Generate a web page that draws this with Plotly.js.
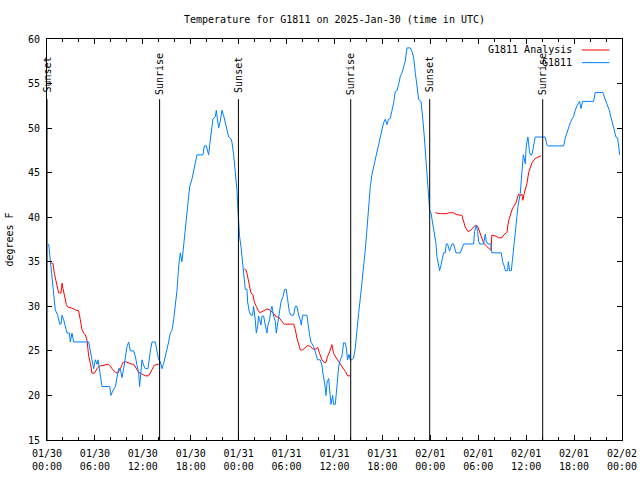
<!DOCTYPE html>
<html><head><meta charset="utf-8">
<script src="https://cdn.plot.ly/plotly-3.0.1.min.js"></script>
<style>html,body{margin:0;padding:0;background:#fff}#chart{width:640px;height:480px}</style>
</head><body><div id="chart"></div>
<script>
// hours after 2025-01-30 00:00 UTC
const blueHours = [0.21,0.42,0.63,0.83,1.04,1.34,1.59,1.75,1.88,2.09,2.30,2.50,2.80,2.92,3.13,3.34,5.22,5.43,5.63,5.84,6.05,6.26,6.39,6.55,6.80,6.89,7.85,8.01,8.22,8.56,8.76,8.97,9.18,9.39,9.60,9.81,10.02,10.23,10.43,10.85,11.06,11.27,11.48,11.60,11.77,11.89,12.10,12.31,12.65,12.73,12.94,13.15,13.56,13.77,13.98,14.19,14.40,14.61,14.82,15.03,15.23,15.44,15.65,15.86,16.07,16.28,16.49,16.69,16.90,17.11,17.32,17.45,17.61,17.86,18.16,18.36,18.57,18.70,18.78,19.53,19.70,19.95,20.24,20.37,20.53,20.66,20.78,21.08,21.20,21.37,21.49,21.70,21.91,22.12,22.33,22.54,22.75,23.04,23.16,23.37,23.58,23.79,23.87,24.00,24.12,24.29,24.54,24.70,24.83,25.04,25.12,25.33,25.54,25.75,25.87,26.08,26.21,26.37,26.50,26.62,26.79,26.92,27.13,27.33,27.54,27.67,27.88,28.04,28.17,28.38,28.59,28.71,28.88,29.13,29.30,29.55,29.75,29.96,30.13,30.34,30.56,30.88,31.09,31.30,31.51,31.72,31.84,32.01,32.55,32.68,32.88,33.05,33.39,33.59,33.89,34.22,34.43,34.56,34.77,34.93,35.06,35.27,35.39,35.56,35.77,35.89,36.10,36.22,36.39,36.52,36.73,36.93,37.14,37.35,37.48,37.64,37.81,37.98,38.19,38.39,38.60,38.81,39.02,39.23,39.44,39.65,39.85,40.06,40.27,40.48,40.69,40.90,41.11,41.32,41.52,41.73,41.94,42.15,42.36,42.57,42.77,42.98,43.19,43.40,43.61,43.82,44.03,44.24,44.45,44.65,44.86,45.07,45.49,45.70,45.91,46.12,46.33,46.54,46.83,46.95,47.07,47.24,47.37,47.57,47.70,47.82,47.91,48.08,48.33,48.49,48.70,48.83,49.04,49.16,49.33,49.50,49.66,49.87,50.00,50.16,50.41,50.58,50.71,50.92,51.04,51.21,51.76,51.96,52.17,53.42,53.54,53.75,53.92,54.05,54.17,54.67,54.88,55.00,55.17,55.59,55.71,56.88,57.05,57.26,57.39,57.68,57.76,57.93,58.14,58.26,58.43,58.55,58.72,58.85,58.97,59.26,59.39,59.51,59.64,59.76,59.89,60.01,60.10,60.22,60.39,60.51,60.72,60.93,61.14,62.39,62.60,62.81,64.69,64.90,65.10,65.31,65.52,65.73,65.94,66.15,66.36,66.69,66.86,67.07,67.19,68.44,68.65,69.61,69.78,69.99,70.20,70.41,70.62,70.82,71.03,71.24,71.45,71.58,71.70];
const blueTemp = [37,35,33.5,31.5,29.6,29,28,28,29,28.5,27.7,27,27,26,27,26,26,25,24,23,24,23.5,24,23,22,21,21,20,20.5,21,22,23,23,22,23,24.5,25.5,26,25,25,24.4,23.4,22.5,21,23,24,23.4,23,23,23.7,25,26,26,25,24,23.8,23,23.6,24.4,25,26,27,27.3,28.5,30,31.8,34.5,36,35,37,38.2,39.5,41.6,43.4,44.3,45.3,46,46.9,47,47,48,48,47,48.1,49.4,50.5,51,51.3,52,50.8,50,50.8,52,51.4,50.7,50,49,48.8,48.4,47,45.3,43,41.4,39.5,37.8,36.7,34.5,33.3,31.9,31.9,30.5,29.4,29,29,30,28.5,27,27.7,28.9,28.5,27.9,28.9,28.9,27.9,27,27.9,28.5,29.6,30,28.9,28.3,27,27.9,29.4,30.5,31.1,31.9,31.9,30.5,29.4,29,29,30,30,29,28.5,27.9,29,29,27.9,26.8,26,25.5,24.9,24,24,23.4,22.4,21.4,20,21.4,21.9,20.8,19,20,19,19,20,21.6,23.2,24,24.4,25.9,25.9,25.3,24,24.6,24,24,24.2,25.3,27.5,29.2,30.9,32.6,34.5,36.3,38.6,41.4,43.4,44.8,45.7,46.6,47.2,48.1,49.1,49.8,50.6,51,50.4,51,51.1,51.9,52.8,54.1,54.2,54.9,55.8,56.2,56.9,57.5,59,59,58.6,57.9,56.2,54.5,53.2,53,52.2,50.9,49.1,47,45,43.4,41.6,40.8,40.5,39.3,38.2,37.1,35.6,34.3,34,34.6,35.6,36,36,37,37,36.2,36.7,37,37,36.4,36,36,36.6,37,37,38.4,39.1,38.4,37.3,37,37,38.1,37.3,37,37,36,36,35,34.5,34,34,35,34,34,35,36.4,37.7,38.9,40.1,41.2,42.7,44.4,46.1,47,46.6,46,48,48.7,49,47.6,47,47,48,49,49,48.1,48,48,48.9,49.5,50,50.6,51,51.3,52,52.5,53,52.2,53,53,53,54,54,53.5,53,52.5,52,51.2,50.6,49.8,49,48.9,48,47];

const redHours = [0.42,0.75,0.92,1.17,1.46,1.75,1.88,2.00,2.17,2.42,2.63,3.13,3.55,3.96,4.17,4.38,4.59,4.80,5.01,5.22,5.43,5.63,5.93,6.26,6.59,7.10,7.72,7.93,8.14,8.56,8.85,9.18,9.52,9.81,10.23,10.64,10.85,11.06,11.27,11.48,11.89,12.31,12.73,12.94,13.15,13.44,13.77,13.98,
  19.0,
  24.70,24.91,25.04,25.25,25.54,25.79,25.96,26.21,26.50,26.71,27.13,27.54,27.88,28.17,28.38,28.71,29.00,29.42,29.71,30.88,31.09,31.30,31.51,31.72,32.01,32.34,32.63,32.97,33.30,33.72,33.89,34.14,34.43,34.72,34.93,35.14,35.39,35.68,35.89,36.22,36.52,36.81,37.06,37.35,37.65,37.98,
  43.0,
  48.62,49.24,50.08,50.29,50.92,51.25,51.96,52.17,52.37,52.71,53.00,53.34,53.63,53.92,54.17,54.46,54.67,55.09,55.34,55.59,55.71,56.13,56.55,56.97,57.18,57.59,57.80,58.01,58.22,58.43,58.72,59.05,59.26,59.47,59.59,59.76,59.93,60.10,60.31,60.51,60.72,61.14,61.56,61.85];
const redTemp = [34.9,34.8,33.7,32.6,31.5,31.5,32.6,32,31.1,30.2,29.9,29.8,29.6,29.5,28.5,27.4,27,26.8,26.2,24.4,23.6,22.5,22.5,23,23.3,23.4,23.5,23.3,23,22.6,22.5,23,23.7,23.8,23.6,23.5,23.5,23.2,23,22.6,22.4,22.2,22.2,22.5,22.9,23.4,23.5,23.5,
  null,
  34.2,34.1,33.7,32.6,31.5,31.3,30.5,30,29.4,29.3,29.5,29.7,29.6,29.4,29.2,28.8,28.8,28.3,28,28,27.4,26.4,25.7,25.1,25.1,25.4,25.6,25.5,25.2,25.2,25.4,24.7,24,23.7,23.7,24.4,24.9,25.7,24.7,24.2,23.8,23.5,23.2,22.7,22.2,22.2,
  null,
  40.5,40.4,40.4,40.5,40.5,40.3,40.2,39.6,38.9,38.4,38.5,38.8,39.1,39,38.3,37.5,37.1,36.7,36.5,36.3,38,37.9,37.7,37.7,38,38.3,39.6,40.3,40.8,41.2,41.6,42.6,42.4,42.6,41.9,42.7,43.3,43.8,45,45.7,46.1,46.6,46.8,46.9];

const sunEvents = ['Sunset','Sunrise','Sunset','Sunrise','Sunset','Sunrise'];
const sunHours = [0.0,14.1,23.97,38.03,47.92,62.07];
const seriesNames = ['G1811 Analysis','G1811'];
const seriesColors = ['#ff0000','#0080ff'];

const base = Date.UTC(2025,0,30,0,0,0);
function toDate(h){
  const d = new Date(base + h*3600000);
  return d.toISOString().replace('T',' ').replace('Z','');
}

const FONT = 'DejaVu Sans Mono, monospace';

const traces = [
  {x: redHours.map(toDate), y: redTemp, mode:'lines', name: seriesNames[0],
   line:{color:seriesColors[0], width:1}, connectgaps:false, showlegend:false},
  {x: blueHours.map(toDate), y: blueTemp, mode:'lines', name: seriesNames[1],
   line:{color:seriesColors[1], width:1}, showlegend:false}
];

const shapes = sunHours.map(h => ({type:'line', xref:'x', yref:'paper', x0:toDate(h), x1:toDate(h), y0:0, y1:0.85,
  line:{color:'#000', width:1}}));
const annotations = sunHours.map((h,i) => ({xref:'x', yref:'paper', x:toDate(h), y:0.9115, text:sunEvents[i],
  textangle:-90, showarrow:false, xanchor:'center', yanchor:'middle', font:{family:FONT, size:10, color:'#000'}}));

// legend (sample on the right, as in the reference)
const legY = [0.9726, 0.941];
seriesNames.forEach((n,i) => {
  annotations.push({xref:'paper', yref:'paper', x:0.9165, y:legY[i], text:n, showarrow:false,
    xanchor:'right', yanchor:'middle', font:{family:FONT, size:10, color:'#000'}});
  shapes.push({type:'line', xref:'paper', yref:'paper', x0:0.930, x1:0.978, y0:legY[i], y1:legY[i],
    line:{color:seriesColors[i], width:1}});
});

const layout = {
  width:640, height:480,
  margin:{l:47, r:18, t:39, b:40},
  paper_bgcolor:'#fff', plot_bgcolor:'#fff',
  font:{family:FONT, size:10, color:'#000'},
  title:{text:'Temperature for G1811 on 2025-Jan-30 (time in UTC)', x:0.5, xref:'paper', xanchor:'center',
    y:0.96, yref:'container', yanchor:'middle', font:{family:FONT, size:10, color:'#000'}},
  xaxis:{type:'date', range:[toDate(0), toDate(72)], tick0:toDate(0), dtick:6*3600000,
    tickformat:'%m/%d<br>%H:%M', ticks:'inside', ticklen:5, tickcolor:'#000', ticklabelstandoff:4,
    showline:true, linecolor:'#000', linewidth:1, mirror:'ticks', showgrid:false, zeroline:false,
    minor:{dtick:2*3600000, tick0:toDate(0), ticks:'inside', ticklen:3, tickcolor:'#000', showgrid:false},
    tickfont:{family:FONT, size:10, color:'#000'}},
  yaxis:{range:[15,60], dtick:5, ticks:'inside', ticklen:5, tickcolor:'#000', ticklabelstandoff:4,
    showline:true, linecolor:'#000', linewidth:1, mirror:'ticks', showgrid:false, zeroline:false,
    tickfont:{family:FONT, size:10, color:'#000'},
    title:{text:'degrees F', font:{family:FONT, size:10, color:'#000'}, standoff:12}},
  shapes: shapes,
  annotations: annotations,
  showlegend:false
};

Plotly.newPlot('chart', traces, layout, {displayModeBar:false, staticPlot:true});
</script>
</body></html>
